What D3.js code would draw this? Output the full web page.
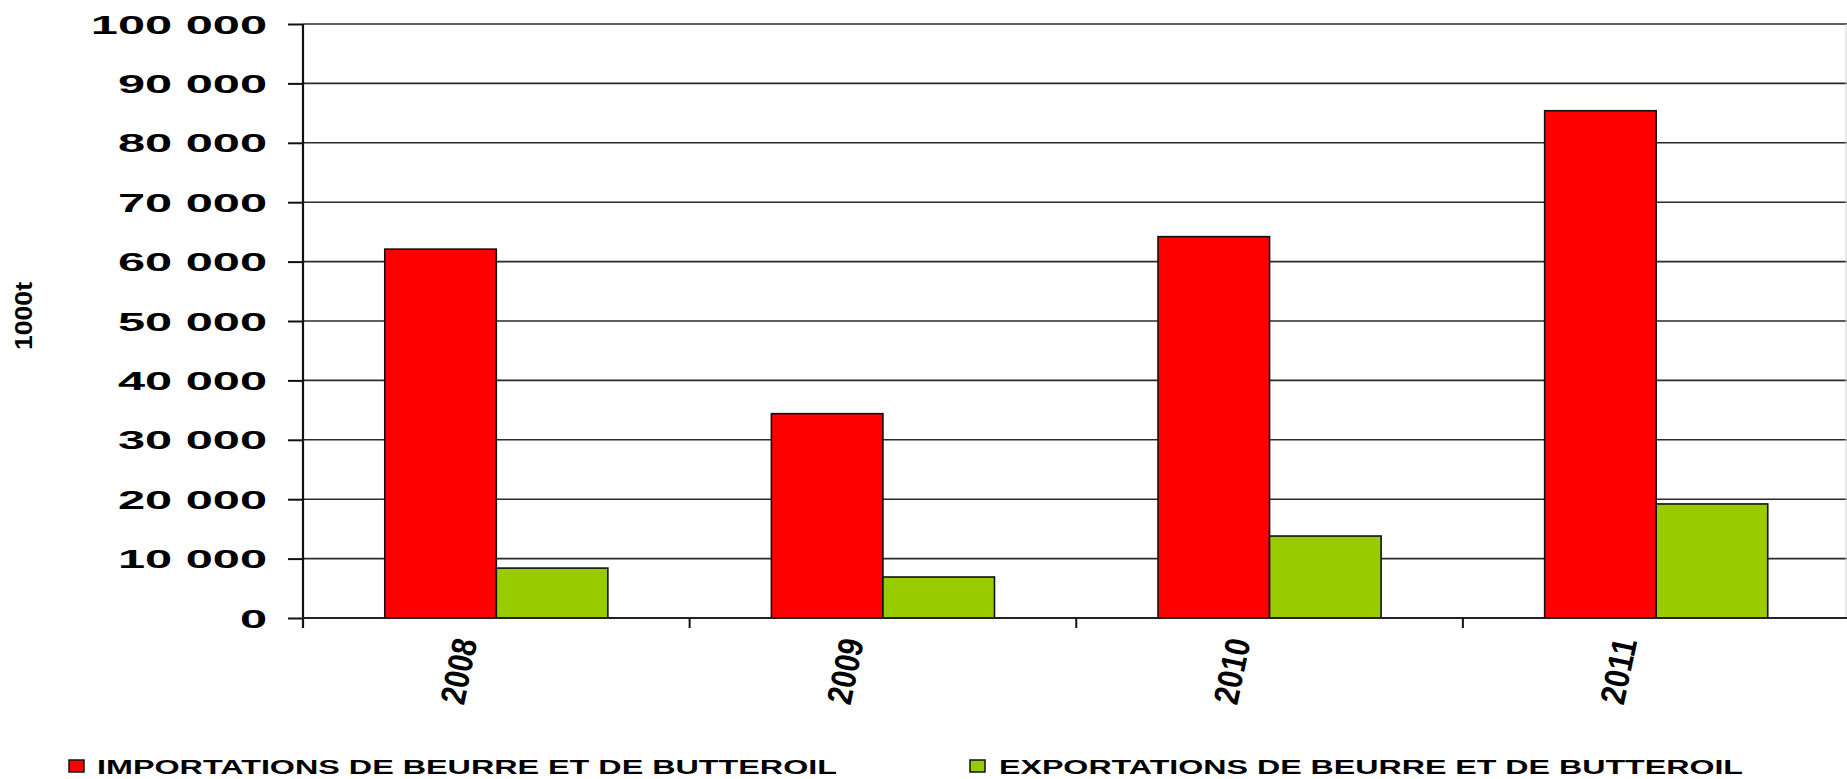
<!DOCTYPE html>
<html>
<head>
<meta charset="utf-8">
<script src="https://cdn.jsdelivr.net/npm/d3@7"></script>
<style>
  html, body { margin: 0; padding: 0; background: #ffffff; }
  svg { display: block; font-family: "Liberation Sans", Arial, sans-serif; }
</style>
</head>
<body>
<svg id="chart" width="1847" height="779"></svg>
<script>
// Butter and butteroil trade, in 1000 t
const years = ["2008", "2009", "2010", "2011"];
const seriesNames = ["IMPORTATIONS DE BEURRE ET DE BUTTEROIL", "EXPORTATIONS DE BEURRE ET DE BUTTEROIL"];
const importsValues = [62100, 34400, 64200, 85400];
const exportsValues = [8400, 6900, 13800, 19200];
const yTicks = [0, 10000, 20000, 30000, 40000, 50000, 60000, 70000, 80000, 90000, 100000];
const yTickLabels = ["0", "10 000", "20 000", "30 000", "40 000", "50 000", "60 000", "70 000", "80 000", "90 000", "100 000"];
const unitLabel = "1000t";
const colors = ["#ff0000", "#99cc00"];

const svg = d3.select("#chart");
const plotLeft = 303, plotRight = 1849.5, plotTop = 24, plotBottom = 618;

const x = d3.scaleBand().domain(years).range([plotLeft, plotRight]).paddingInner(0).paddingOuter(0);
const bw = x.bandwidth();
const groupPad = bw * 0.2115;
const xs = d3.scaleBand().domain([0, 1]).range([groupPad, bw - groupPad]).padding(0);
const y = d3.scaleLinear().domain([0, 100000]).range([plotBottom, plotTop]);

// horizontal gridlines
svg.append("g").selectAll("line").data(yTicks.slice(1)).join("line")
  .attr("x1", plotLeft).attr("x2", 1847)
  .attr("y1", d => y(d)).attr("y2", d => y(d))
  .attr("stroke", "#2a2a2a").attr("stroke-width", 1.6);

// right border
svg.append("line").attr("x1", 1846).attr("x2", 1846).attr("y1", plotTop).attr("y2", plotBottom)
  .attr("stroke", "#d0d0d0").attr("stroke-width", 1);

// bars
const data = years.map((yr, i) => ({ year: yr, values: [importsValues[i], exportsValues[i]] }));
const groups = svg.append("g").selectAll("g").data(data).join("g")
  .attr("transform", d => `translate(${x(d.year)},0)`);
groups.selectAll("rect").data(d => d.values.map((v, k) => ({ k, v }))).join("rect")
  .attr("x", d => xs(d.k))
  .attr("width", xs.bandwidth())
  .attr("y", d => y(d.v))
  .attr("height", d => y(0) - y(d.v))
  .attr("fill", d => colors[d.k])
  .attr("stroke", "#111").attr("stroke-width", 1.6);

// y axis
const yAxis = d3.axisLeft(y).tickValues(yTicks).tickSize(15).tickFormat((d, i) => yTickLabels[i]).tickPadding(21);
const yg = svg.append("g").attr("transform", `translate(${plotLeft},0)`).call(yAxis);
yg.select(".domain").remove();
yg.selectAll(".tick line").attr("stroke", "#111").attr("stroke-width", 2);
yg.selectAll(".tick text")
  .attr("font-size", 25).attr("font-weight", "bold").attr("fill", "#000")
  .attr("font-family", "'Liberation Sans', Arial, sans-serif")
  .attr("dy", "0.36em")
  .each(function () {
    const w = this.getComputedTextLength();
    d3.select(this).attr("textLength", w * 1.95).attr("lengthAdjust", "spacingAndGlyphs");
  });
svg.append("line").attr("x1", plotLeft).attr("x2", plotLeft).attr("y1", plotTop).attr("y2", plotBottom + 10)
  .attr("stroke", "#111").attr("stroke-width", 2.2);

// x axis baseline and ticks
svg.append("line").attr("x1", plotLeft).attr("x2", 1847).attr("y1", plotBottom).attr("y2", plotBottom)
  .attr("stroke", "#222").attr("stroke-width", 1.8);
svg.append("g").selectAll("line").data(years).join("line")
  .attr("x1", d => x(d)).attr("x2", d => x(d))
  .attr("y1", plotBottom).attr("y2", plotBottom + 10)
  .attr("stroke", "#111").attr("stroke-width", 2);

// year labels, steeply rotated and squeezed
svg.append("g").selectAll("text").data(years).join("text")
  .attr("transform", d => `translate(${x(d) + bw / 2 - 38},671) rotate(-78)`)
  .attr("text-anchor", "middle").attr("dominant-baseline", "central")
  .attr("font-size", 35).attr("font-weight", "bold").attr("fill", "#000")
  .attr("textLength", 66).attr("lengthAdjust", "spacingAndGlyphs")
  .text(d => d);

// unit label
svg.append("text")
  .attr("transform", "translate(24,316) rotate(-90)")
  .attr("text-anchor", "middle").attr("dominant-baseline", "central")
  .attr("font-size", 23).attr("font-weight", "bold").attr("fill", "#000")
  .attr("textLength", 68).attr("lengthAdjust", "spacingAndGlyphs")
  .text(unitLabel);

// legend
const legendPos = [{ sx: 69, tx: 97, tw: 740 }, { sx: 970, tx: 999, tw: 744 }];
const lg = svg.append("g").selectAll("g").data(seriesNames).join("g");
lg.append("rect")
  .attr("x", (d, i) => legendPos[i].sx).attr("y", 760)
  .attr("width", 15).attr("height", 12)
  .attr("fill", (d, i) => colors[i]).attr("stroke", "#111").attr("stroke-width", 1.5);
lg.append("text")
  .attr("x", (d, i) => legendPos[i].tx).attr("y", 774)
  .attr("font-size", 20.5).attr("font-weight", "bold").attr("fill", "#000")
  .attr("textLength", (d, i) => legendPos[i].tw).attr("lengthAdjust", "spacingAndGlyphs")
  .text(d => d);
</script>
</body>
</html>
